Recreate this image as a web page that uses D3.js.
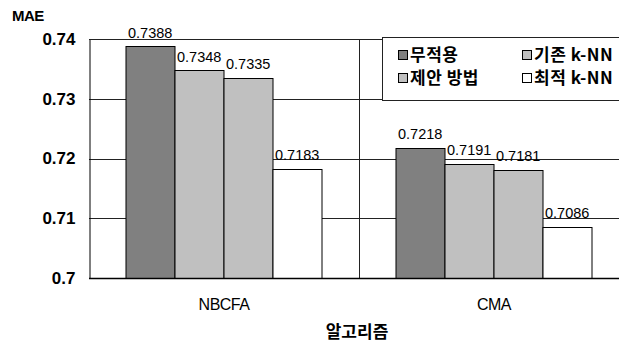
<!DOCTYPE html>
<html>
<head>
<meta charset="utf-8">
<script src="https://cdn.jsdelivr.net/npm/d3@7"></script>
<style>
  html, body { margin: 0; padding: 0; background: #fff; }
  svg { display: block; }
  text { font-family: "Liberation Sans", Arial, sans-serif; fill: #000; }
  .kr { font-family: "Noto Sans CJK KR", sans-serif; font-weight: 700; }
</style>
</head>
<body>
<svg id="chart" width="619" height="345"></svg>
<script>
// Algorithms on the x axis
const categories = ["NBCFA", "CMA"];
// Series (legend order) and their MAE values per algorithm
const seriesNames = ["무적용", "기존 k-NN", "제안 방법", "최적 k-NN"];
const noApply    = [0.7388, 0.7218];
const baseKnn    = [0.7348, 0.7191];
const proposed   = [0.7335, 0.7181];
const optimalKnn = [0.7183, 0.7086];
const yTicks = [0.7, 0.71, 0.72, 0.73, 0.74];
const yTickLabels = ["0.7", "0.71", "0.72", "0.73", "0.74"];

const seriesValues = [noApply, baseKnn, proposed, optimalKnn];
const seriesColors = ["#808080", "#c0c0c0", "#c0c0c0", "#ffffff"];

const svg = d3.select("#chart");
const plot = { left: 89, right: 629, top: 39, bottom: 278 };

const x0 = d3.scaleBand().domain(categories).range([plot.left, plot.right]).padding(0);
const x1 = d3.scaleBand().domain(d3.range(seriesNames.length))
  .range([0, x0.bandwidth()]).paddingInner(0).paddingOuter(0.755);
const y = d3.scaleLinear().domain([0.7, 0.74]).range([plot.bottom, plot.top]);

const px = v => Math.round(v) + 0.5;

// horizontal grid lines
svg.append("g").selectAll("line").data(yTicks.slice(1)).join("line")
  .attr("x1", plot.left).attr("x2", plot.right)
  .attr("y1", d => px(y(d))).attr("y2", d => px(y(d)))
  .attr("stroke", "#222").attr("stroke-width", 1);

// vertical separators between categories
svg.append("g").selectAll("line").data(categories.slice(1)).join("line")
  .attr("x1", d => px(x0(d))).attr("x2", d => px(x0(d)))
  .attr("y1", plot.top).attr("y2", plot.bottom)
  .attr("stroke", "#222");

// bars with value labels
const groups = svg.append("g").selectAll("g").data(categories).join("g")
  .attr("transform", d => `translate(${x0(d)},0)`);

groups.each(function(cat, ci) {
  const g = d3.select(this);
  seriesValues.forEach((vals, si) => {
    const v = vals[ci];
    const bx = x1(si);
    const bw = x1.bandwidth();
    g.append("rect")
      .attr("x", bx).attr("y", px(y(v)))
      .attr("width", bw).attr("height", plot.bottom - Math.round(y(v)))
      .attr("fill", seriesColors[si]).attr("stroke", "#000").attr("stroke-width", 1);
    g.append("text")
      .attr("x", bx + 2).attr("y", y(v) - 8.5)
      .attr("font-size", 14.5)
      .text(v.toFixed(4));
  });
});

// y axis
const yAxis = d3.axisLeft(y).tickValues(yTicks)
  .tickFormat((d, i) => yTickLabels[i]).tickSize(0).tickPadding(14);
const ya = svg.append("g").attr("transform", `translate(${plot.left + 0.5},0)`).call(yAxis);
ya.select(".domain").attr("stroke", "#000");
ya.selectAll("text")
  .attr("font-size", 17).attr("font-weight", 700)
  .attr("font-family", "Liberation Sans, Arial, sans-serif").attr("fill", "#000");

// plot frame: top and bottom
svg.append("line").attr("x1", plot.left).attr("x2", plot.right)
  .attr("y1", px(plot.top)).attr("y2", px(plot.top)).attr("stroke", "#222");
svg.append("line").attr("x1", plot.left).attr("x2", plot.right)
  .attr("y1", plot.bottom + 0.5).attr("y2", plot.bottom + 0.5)
  .attr("stroke", "#000").attr("stroke-width", 1.6);

// x category labels
svg.append("g").selectAll("text").data(categories).join("text")
  .attr("x", d => x0(d) + x0.bandwidth() / 2)
  .attr("y", 310).attr("text-anchor", "middle").attr("font-size", 16)
  .attr("letter-spacing", -0.5)
  .text(d => d);

// axis titles
svg.append("text").attr("x", 12).attr("y", 21).attr("font-size", 15)
  .attr("letter-spacing", -0.5).attr("font-weight", 700).text("MAE");
svg.append("text").attr("class", "kr").attr("x", 357).attr("y", 338)
  .attr("text-anchor", "middle").attr("font-size", 17).text("알고리즘");

// legend
const lg = svg.append("g");
lg.append("rect").attr("x", 382.5).attr("y", 37.5).attr("width", 250).attr("height", 63)
  .attr("fill", "#fff").attr("stroke", "#222");
const legendPos = [[398, 50], [522, 50], [398, 73], [522, 73]];
seriesNames.forEach((name, i) => {
  const [lx, ly] = legendPos[i];
  lg.append("rect").attr("x", lx + 0.5).attr("y", ly + 0.5).attr("width", 9).attr("height", 9)
    .attr("fill", seriesColors[i]).attr("stroke", "#000");
  lg.append("text").attr("class", "kr").attr("x", lx + 12).attr("y", ly + 11)
    .attr("font-size", 17).attr("letter-spacing", 0.5).text(name);
});
</script>
</body>
</html>
